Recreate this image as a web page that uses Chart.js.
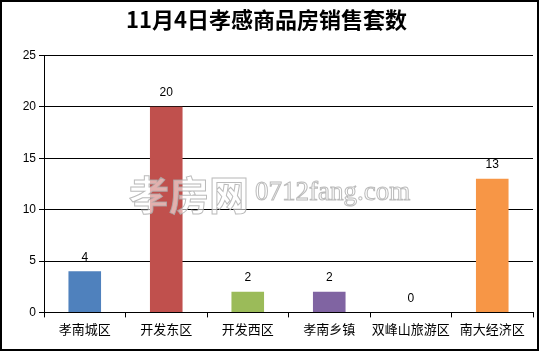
<!DOCTYPE html>
<html>
<head>
<meta charset="utf-8">
<script src="https://cdn.jsdelivr.net/npm/chart.js@4.4.1/dist/chart.umd.min.js"></script>
<style>
  html, body { margin: 0; padding: 0; background: #fff; }
  #wrap { width: 539px; height: 351px; }
</style>
</head>
<body>
<div id="wrap"><canvas id="grafico"></canvas></div>
<script>
// Datos del gráfico
const titulo = "11月4日孝感商品房销售套数";
const zonas = ["孝南城区", "开发东区", "开发西区", "孝南乡镇", "双峰山旅游区", "南大经济区"];
const ventas = [4, 20, 2, 2, 0, 13];
const colores = ["#4F81BD", "#C0504D", "#9BBB59", "#8064A2", "#4BACC6", "#F79646"];
const marcaAgua = ["孝房网", "0712fang.com"];

// Fondo blanco y marco negro
const marco = {
    id: "marco",
    beforeDraw(chart) {
        const c = chart.ctx;
        c.save();
        c.fillStyle = "#fff";
        c.fillRect(0, 0, chart.width, chart.height);
        c.restore();
    },
    afterDraw(chart) {
        const c = chart.ctx;
        c.save();
        c.strokeStyle = "#000";
        c.lineWidth = 2;
        c.strokeRect(1, 1, chart.width - 2, chart.height - 2);
        c.restore();
    }
};

// Etiquetas de valor encima de cada barra
const etiquetas = {
    id: "etiquetas",
    afterDatasetsDraw(chart) {
        const c = chart.ctx;
        const meta = chart.getDatasetMeta(0);
        c.save();
        c.font = "12px 'Liberation Sans', Arial, sans-serif";
        c.fillStyle = "#000";
        c.textAlign = "center";
        c.textBaseline = "middle";
        meta.data.forEach((bar, i) => {
            c.fillText(String(ventas[i]), bar.x, bar.y - 14);
        });
        c.restore();
    }
};

// Marca de agua
const agua = {
    id: "agua",
    afterDatasetsDraw(chart) {
        const c = chart.ctx;
        c.save();
        c.lineWidth = 1;
        c.strokeStyle = "rgba(170,170,170,0.8)";
        c.fillStyle = "rgba(255,255,255,0.55)";
        c.textBaseline = "alphabetic";
        c.font = "bold 40px 'Noto Sans CJK SC', sans-serif";
        c.fillText(marcaAgua[0], 129, 210);
        c.strokeText(marcaAgua[0], 129, 210);
        c.font = "27px 'Liberation Serif', serif";
        c.fillText(marcaAgua[1], 255, 200);
        c.strokeText(marcaAgua[1], 255, 200);
        c.restore();
    }
};

const ctx = document.getElementById("grafico").getContext("2d");
new Chart(ctx, {
    type: "bar",
    data: {
        labels: zonas,
        datasets: [
            {
                label: "套数",
                data: ventas,
                backgroundColor: colores,
                borderWidth: 0,
                barPercentage: 0.4,
                categoryPercentage: 1.0,
            },
        ],
    },
    options: {
        responsive: true,
        maintainAspectRatio: false,
        animation: false,
        layout: { padding: { left: 0, right: 6, top: 0, bottom: 10 } },
        plugins: {
            legend: { display: false },
            tooltip: { enabled: false },
            title: {
                display: true,
                text: titulo,
                color: "#000",
                font: { family: "'Noto Sans CJK SC', sans-serif", size: 22, weight: "bold" },
                padding: { top: 6, bottom: 23 },
            },
        },
        scales: {
            y: {
                min: 0,
                max: 25,
                ticks: {
                    stepSize: 5,
                    color: "#000",
                    padding: 3,
                    font: { family: "'Liberation Sans', Arial, sans-serif", size: 12 },
                },
                grid: { color: "#000", lineWidth: 1, tickLength: 5 },
                border: { color: "#000", width: 1 },
                afterFit(scale) { scale.width = 44; },
            },
            x: {
                ticks: {
                    color: "#000",
                    padding: 4,
                    maxRotation: 0,
                    font: { family: "'Noto Sans CJK SC', sans-serif", size: 13 },
                },
                grid: { drawOnChartArea: false, drawTicks: true, tickLength: 5, color: "#000", offset: true },
                border: { color: "#000", width: 1 },
            },
        },
    },
    plugins: [marco, etiquetas, agua],
});
</script>
</body>
</html>
